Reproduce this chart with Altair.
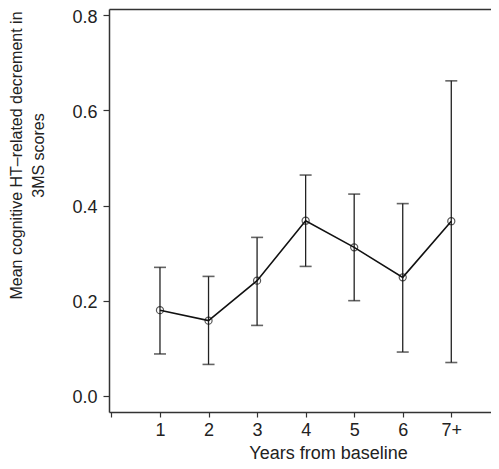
import altair as alt
import pandas as pd

years = [1, 2, 3, 4, 5, 6, 7]
labels = ["1", "2", "3", "4", "5", "6", "7+"]
mean = [0.180, 0.158, 0.242, 0.368, 0.312, 0.249, 0.367]
lower = [0.088, 0.066, 0.148, 0.272, 0.200, 0.092, 0.070]
upper = [0.270, 0.251, 0.333, 0.464, 0.424, 0.404, 0.662]

df = pd.DataFrame({"year": years, "label": labels, "mean": mean,
                   "lower": lower, "upper": upper})

font = "Liberation Sans"
xs = alt.Scale(domain=[-0.05, 7.818], nice=False, zero=False)
ys = alt.Scale(domain=[-0.034, 0.813], nice=False, zero=False)

x_axis = alt.Axis(values=[0, 1, 2, 3, 4, 5, 6, 7],
                  labelExpr="datum.value == 0 ? '' : datum.value == 7 ? '7+' : datum.label",
                  title="Years from baseline", grid=False, domainColor="#333",
                  domainWidth=1.5, tickColor="#333", tickWidth=1.2, tickSize=5,
                  labelFont=font, labelFontSize=18, labelColor="#222", labelPadding=4,
                  titleFont=font, titleFontSize=18, titleFontWeight="normal",
                  titleColor="#222", titlePadding=5, titleX=219)
x_top = alt.Axis(orient="top", labels=False, ticks=False, title=None, grid=False,
                 domainColor="#333", domainWidth=1.5)
y_axis = alt.Axis(values=[0, 0.2, 0.4, 0.6, 0.8], format=".1f",
                  title=["Mean cognitive HT\u2013related decrement in", "3MS scores"],
                  grid=False, domainColor="#333", domainWidth=1.5, tickColor="#333",
                  tickWidth=1.2, tickSize=6, labelFont=font, labelFontSize=18,
                  labelColor="#222", labelPadding=6, labelOffset=2,
                  titleFont=font, titleFontSize=16,
                  titleFontWeight="normal", titleColor="#222", titlePadding=25,
                  titleLineHeight=22, titleY=146)

base = alt.Chart(df)

rules = base.mark_rule(color="#222", strokeWidth=1.3).encode(
    x=alt.X("year:Q", scale=xs, axis=x_axis),
    y=alt.Y("lower:Q", scale=ys, axis=y_axis),
    y2="upper:Q",
)
cap_lo = base.mark_tick(color="#222", thickness=1.6, size=12, orient="horizontal").encode(
    x=alt.X("year:Q", scale=xs, axis=None), y=alt.Y("lower:Q", scale=ys, axis=None))
cap_hi = base.mark_tick(color="#222", thickness=1.6, size=12, orient="horizontal").encode(
    x=alt.X("year:Q", scale=xs, axis=None), y=alt.Y("upper:Q", scale=ys, axis=None))
line = base.mark_line(color="#111", strokeWidth=1.6).encode(
    x=alt.X("year:Q", scale=xs, axis=x_top), y=alt.Y("mean:Q", scale=ys, axis=None))
pts = base.mark_point(shape="circle", filled=False, color="#111", size=50,
                      strokeWidth=1.2).encode(
    x=alt.X("year:Q", scale=xs, axis=None), y=alt.Y("mean:Q", scale=ys, axis=None))

chart = alt.layer(rules, cap_lo, cap_hi, line, pts).resolve_axis(
    x="independent", y="independent"
).properties(
    width=382, height=403,
    background="white",
    autosize=alt.AutoSizeParams(type="none"),
    padding={"left": 101, "top": 1, "right": 0, "bottom": 49},
).configure_view(stroke=None)

chart.save("out.html", embed_options={"renderer": "svg", "actions": False})
